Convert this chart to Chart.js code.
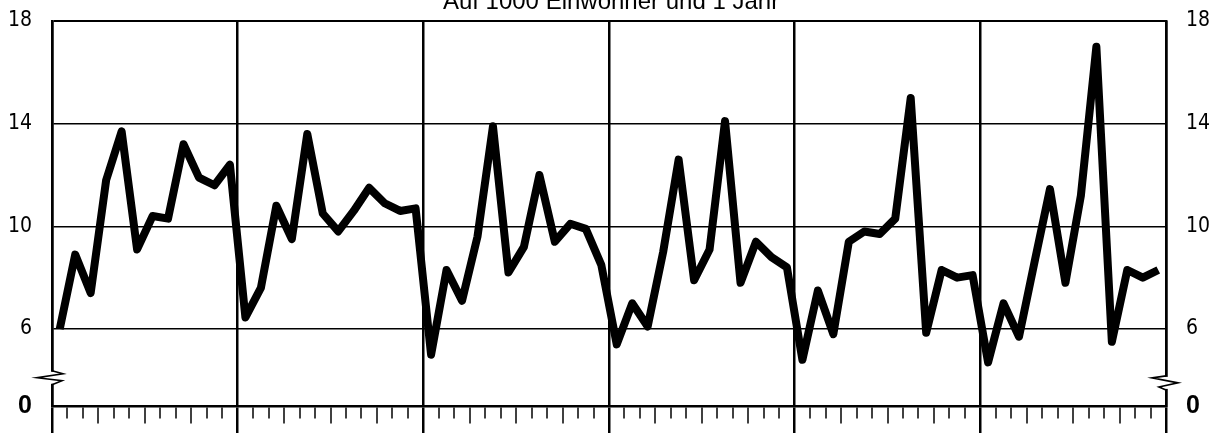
<!DOCTYPE html>
<html lang="de">
<head>
<meta charset="utf-8">
<title>Auf 1000 Einwohner und 1 Jahr</title>
<script src="https://cdn.jsdelivr.net/npm/chart.js@4.4.1/dist/chart.umd.min.js"></script>
<style>
  html, body { margin: 0; padding: 0; background: #fff; }
  canvas { display: block; }
</style>
</head>
<body>
<canvas id="chart_1" width="1225" height="433"></canvas>
<script>
const titleText = 'Auf 1000 Einwohner und 1 Jahr';
const months = ['Jan', 'Feb', 'Mär', 'Apr', 'Mai', 'Jun', 'Jul', 'Aug', 'Sep', 'Okt', 'Nov', 'Dez'];
const years = ['1', '2', '3', '4', '5', '6'];

// monthly values per year block
const year1 = [6.0, 8.9, 7.4, 11.8, 13.7, 9.1, 10.4, 10.3, 13.2, 11.9, 11.6, 12.4];
const year2 = [6.45, 7.6, 10.8, 9.5, 13.6, 10.5, 9.8, 10.6, 11.5, 10.9, 10.6, 10.7];
const year3 = [5.0, 8.3, 7.1, 9.6, 13.9, 8.2, 9.2, 12.0, 9.4, 10.1, 9.9, 8.5];
const year4 = [5.4, 7.0, 6.1, 9.0, 12.6, 7.9, 9.1, 14.1, 7.8, 9.4, 8.8, 8.4];
const year5 = [4.8, 7.5, 5.8, 9.4, 9.8, 9.7, 10.3, 15.0, 5.85, 8.3, 8.0, 8.1];
const year6 = [4.7, 7.0, 5.7, 8.6, 11.45, 7.8, 11.2, 17.0, 5.5, 8.3, 8.0, 8.3];

// broken axis: the bottom of the scale (3) is labelled 0
const yTicks = [3, 6, 10, 14, 18];
const yTickLabels = ['0', '6', '10', '14', '18'];
const breakLeft = 4.1;
const breakRight = 3.9;

const labels = [];
years.forEach((y) => months.forEach((m) => labels.push(m + ' ' + y)));
const values = [].concat(year1, year2, year3, year4, year5, year6);

const labelFont = "'Liberation Sans Narrow', 'DejaVu Sans Condensed', sans-serif";

Chart.defaults.color = '#000';

// title sits half cut off at the top edge, like in the scan
const topTitle = {
    id: 'topTitle',
    afterDraw(chart) {
        const ctx = chart.ctx;
        const area = chart.chartArea;
        ctx.save();
        ctx.fillStyle = '#000';
        ctx.font = "normal 24px 'Liberation Sans', sans-serif";
        ctx.textAlign = 'center';
        ctx.textBaseline = 'alphabetic';
        ctx.fillText(titleText, (area.left + area.right) / 2 + 2, 9);
        ctx.restore();
    }
};

// zigzag marks for the broken y axis
const axisBreak = {
    id: 'axisBreak',
    afterDraw(chart) {
        const ctx = chart.ctx;
        const area = chart.chartArea;
        const yl = chart.scales.y.getPixelForValue(breakLeft);
        const yr = chart.scales.y2.getPixelForValue(breakRight);
        ctx.save();
        ctx.strokeStyle = '#000';
        ctx.lineWidth = 1.6;
        ctx.fillStyle = '#fff';
        ctx.fillRect(area.left - 2, yl - 6, 4, 12);
        ctx.beginPath();
        ctx.moveTo(area.left, yl - 7);
        ctx.lineTo(area.left + 11, yl - 4);
        ctx.lineTo(area.left - 15, yl);
        ctx.lineTo(area.left + 10, yl + 3);
        ctx.lineTo(area.left, yl + 7);
        ctx.stroke();
        ctx.fillRect(area.right - 2, yr - 6, 4, 12);
        ctx.beginPath();
        ctx.moveTo(area.right, yr - 7);
        ctx.lineTo(area.right - 14, yr - 5);
        ctx.lineTo(area.right + 12, yr);
        ctx.lineTo(area.right - 7, yr + 4);
        ctx.lineTo(area.right, yr + 7);
        ctx.stroke();
        ctx.restore();
    }
};

const isYearLine = (c) => c.index === undefined || c.index % 12 === 0;

const yTickOptions = {
    padding: 20,
    callback: (v) => yTickLabels[yTicks.indexOf(v)],
    font: (c) => (c.tick && c.tick.value === yTicks[0])
        ? { family: "'Liberation Sans', sans-serif", size: 25, weight: 'bold' }
        : { family: labelFont, size: 21 }
};

const fixY = (w) => (scale) => {
    scale.width = w;
    scale.paddingTop = 0;
    scale.paddingBottom = 0;
};

const config = {
    type: 'line',
    data: {
        labels: labels,
        datasets: [{
            label: titleText,
            data: values,
            borderColor: '#000',
            backgroundColor: '#000',
            borderWidth: 8,
            borderJoinStyle: 'round',
            borderCapStyle: 'butt',
            tension: 0,
            pointRadius: 0,
            yAxisID: 'y'
        }]
    },
    options: {
        responsive: false,
        animation: false,
        layout: { padding: { top: 21, bottom: 0, left: 0, right: 0 } },
        plugins: {
            legend: { display: false },
            tooltip: { enabled: false },
            title: { display: false }
        },
        scales: {
            x: {
                type: 'category',
                offset: true,
                ticks: { display: false, autoSkip: false },
                border: { color: '#000', width: 2.5 },
                grid: {
                    offset: true,
                    drawTicks: true,
                    tickLength: 27,
                    color: (c) => isYearLine(c) ? '#000' : 'rgba(0,0,0,0)',
                    lineWidth: (c) => isYearLine(c) ? 2.5 : 0,
                    tickColor: '#000',
                    tickWidth: (c) => isYearLine(c) ? 2.5 : 1.5,
                    tickBorderDash: (c) => isYearLine(c) ? [] : (c.index % 3 === 0 ? [16, 60] : [11, 60])
                },
                afterFit: (scale) => { scale.height = 27; }
            },
            y: {
                position: 'left',
                min: yTicks[0],
                max: yTicks[yTicks.length - 1],
                afterBuildTicks: (scale) => { scale.ticks = yTicks.map((v) => ({ value: v })); },
                afterFit: fixY(52),
                ticks: yTickOptions,
                border: { color: '#000', width: 2.5 },
                grid: {
                    drawTicks: false,
                    color: '#000',
                    lineWidth: (c) => c.tick && c.tick.value === yTicks[0] ? 0 : (c.tick && c.tick.value === 18 ? 2 : 1.5)
                }
            },
            y2: {
                position: 'right',
                min: yTicks[0],
                max: yTicks[yTicks.length - 1],
                afterBuildTicks: (scale) => { scale.ticks = yTicks.map((v) => ({ value: v })); },
                afterFit: fixY(59),
                ticks: yTickOptions,
                border: { color: '#000', width: 2.5 },
                grid: { drawOnChartArea: false, drawTicks: false }
            }
        }
    },
    plugins: [axisBreak, topTitle]
};

const myChart = new Chart(document.getElementById('chart_1'), config);
</script>
</body>
</html>
